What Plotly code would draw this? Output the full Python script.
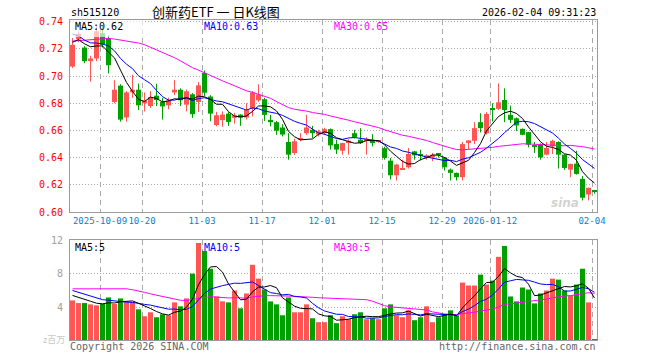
import plotly.graph_objects as go
import pandas as pd

# ---------------- data ----------------
dates = [
    "2025-09-24", "2025-09-25", "2025-09-26", "2025-09-29", "2025-09-30",
    "2025-10-09", "2025-10-10", "2025-10-13", "2025-10-14", "2025-10-15", "2025-10-16", "2025-10-17",
    "2025-10-20", "2025-10-21", "2025-10-22", "2025-10-23", "2025-10-24",
    "2025-10-27", "2025-10-28", "2025-10-29", "2025-10-30", "2025-10-31",
    "2025-11-03", "2025-11-04", "2025-11-05", "2025-11-06", "2025-11-07",
    "2025-11-10", "2025-11-11", "2025-11-12", "2025-11-13", "2025-11-14",
    "2025-11-17", "2025-11-18", "2025-11-19", "2025-11-20", "2025-11-21",
    "2025-11-24", "2025-11-25", "2025-11-26", "2025-11-27", "2025-11-28",
    "2025-12-01", "2025-12-02", "2025-12-03", "2025-12-04", "2025-12-05",
    "2025-12-08", "2025-12-09", "2025-12-10", "2025-12-11", "2025-12-12",
    "2025-12-15", "2025-12-16", "2025-12-17", "2025-12-18", "2025-12-19",
    "2025-12-22", "2025-12-23", "2025-12-24", "2025-12-25", "2025-12-26",
    "2025-12-29", "2025-12-30", "2025-12-31",
    "2026-01-05", "2026-01-06", "2026-01-07", "2026-01-08", "2026-01-09",
    "2026-01-12", "2026-01-13", "2026-01-14", "2026-01-15", "2026-01-16",
    "2026-01-19", "2026-01-20", "2026-01-21", "2026-01-22", "2026-01-23",
    "2026-01-26", "2026-01-27", "2026-01-28", "2026-01-29", "2026-01-30",
    "2026-02-02", "2026-02-03", "2026-02-04",
]

open_ = [
    0.707, 0.727, 0.721, 0.711, 0.713, 0.7315, 0.728, 0.681, 0.693, 0.6696,
    0.688, 0.690, 0.680, 0.678, 0.6856, 0.681, 0.6785, 0.688, 0.690, 0.679,
    0.6866, 0.681, 0.7024, 0.685, 0.664, 0.6676, 0.6724, 0.6693, 0.6717, 0.6695,
    0.676, 0.6822, 0.683, 0.6678, 0.6661, 0.6622, 0.6515, 0.6434, 0.653, 0.658,
    0.6605, 0.657, 0.658, 0.661, 0.650, 0.6451, 0.651, 0.658, 0.6532, 0.6525,
    0.6532, 0.652, 0.647, 0.6378, 0.627, 0.6315, 0.6329, 0.6446, 0.6427, 0.6398,
    0.6402, 0.6424, 0.6402, 0.6312, 0.6288, 0.6256, 0.6515, 0.6524, 0.6661, 0.658,
    0.6755, 0.6759, 0.6824, 0.6715, 0.669, 0.6612, 0.6588, 0.6485, 0.650, 0.6422,
    0.6483, 0.6515, 0.6422, 0.6312, 0.6356, 0.6244, 0.6129, 0.615,
]
high = [
    0.728, 0.733, 0.722, 0.715, 0.737, 0.737, 0.730, 0.697, 0.694, 0.689,
    0.701, 0.6945, 0.688, 0.689, 0.6944, 0.684, 0.6841, 0.697, 0.691, 0.690,
    0.6875, 0.6956, 0.7041, 0.686, 0.6737, 0.674, 0.6735, 0.673, 0.672, 0.680,
    0.689, 0.694, 0.684, 0.6715, 0.667, 0.6646, 0.658, 0.654, 0.658, 0.6715,
    0.6634, 0.6605, 0.662, 0.6615, 0.6532, 0.651, 0.6535, 0.6605, 0.6617, 0.655,
    0.6573, 0.653, 0.648, 0.6398, 0.6355, 0.6385, 0.6471, 0.645, 0.6459, 0.6425,
    0.6435, 0.6435, 0.6405, 0.632, 0.629, 0.6515, 0.6527, 0.6661, 0.6727, 0.6735,
    0.680, 0.6946, 0.691, 0.6783, 0.6695, 0.6615, 0.659, 0.6515, 0.6505, 0.6515,
    0.6532, 0.652, 0.6425, 0.6356, 0.6451, 0.6265, 0.618, 0.616,
]
low = [
    0.706, 0.725, 0.7095, 0.696, 0.711, 0.721, 0.702, 0.680, 0.6665, 0.6665,
    0.684, 0.675, 0.674, 0.6766, 0.678, 0.668, 0.6756, 0.686, 0.678, 0.674,
    0.6693, 0.6737, 0.6853, 0.6668, 0.663, 0.6627, 0.6634, 0.6651, 0.6634, 0.668,
    0.6704, 0.681, 0.667, 0.663, 0.6568, 0.6556, 0.6385, 0.642, 0.652, 0.6568,
    0.6544, 0.6556, 0.6568, 0.6459, 0.6427, 0.6422, 0.6422, 0.654, 0.650, 0.6422,
    0.6483, 0.651, 0.6385, 0.624, 0.6232, 0.631, 0.632, 0.6385, 0.6378, 0.6385,
    0.6375, 0.640, 0.6305, 0.6232, 0.6232, 0.6232, 0.6459, 0.650, 0.6585, 0.657,
    0.6666, 0.675, 0.6661, 0.6654, 0.6595, 0.6565, 0.6476, 0.6434, 0.6385, 0.6418,
    0.6427, 0.632, 0.631, 0.6256, 0.6275, 0.6085, 0.6085, 0.6135,
]
close = [
    0.723, 0.731, 0.711, 0.713, 0.733, 0.723, 0.708, 0.690, 0.668, 0.688,
    0.690, 0.6785, 0.682, 0.6846, 0.6824, 0.6777, 0.682, 0.690, 0.6822, 0.6888,
    0.672, 0.6932, 0.6878, 0.6724, 0.6712, 0.6717, 0.6663, 0.6712, 0.6695, 0.675,
    0.688, 0.6865, 0.6715, 0.6661, 0.6598, 0.657, 0.6422, 0.652, 0.6544, 0.6622,
    0.658, 0.6593, 0.661, 0.649, 0.6459, 0.6507, 0.6524, 0.6551, 0.6507, 0.6539,
    0.6507, 0.6525, 0.6398, 0.627, 0.6349, 0.632, 0.6427, 0.6417, 0.6415, 0.6417,
    0.6422, 0.6420, 0.6329, 0.6288, 0.6256, 0.650, 0.6527, 0.6617, 0.6617, 0.6722,
    0.6751, 0.6807, 0.6751, 0.6678, 0.6637, 0.6568, 0.6495, 0.6483, 0.6402, 0.6471,
    0.6524, 0.6422, 0.6324, 0.6354, 0.628, 0.6105, 0.6178, 0.6149,
]
# volume, millions
volume = [
    4.8, 4.48, 4.48, 4.32, 4.2, 4.4, 5.16, 4.36, 5.04, 4.56,
    4.56, 3.72, 2.88, 3.36, 2.76, 3.12, 3.0, 4.56, 4.08, 5.04,
    8.04, 11.76, 10.8, 8.64, 5.28, 4.68, 4.56, 6.0, 3.84, 5.64,
    9.12, 7.44, 6.12, 4.68, 4.32, 3.0, 5.16, 3.36, 3.36, 4.32,
    2.64, 2.16, 2.16, 3.0, 2.04, 2.88, 2.52, 3.12, 3.36, 2.52,
    2.64, 2.52, 3.84, 4.32, 3.0, 2.76, 3.6, 2.4, 2.76, 4.08,
    2.16, 2.76, 3.12, 3.6, 3.0, 6.96, 6.6, 6.6, 7.92, 6.72,
    7.2, 10.08, 11.4, 5.28, 4.68, 6.36, 6.12, 4.44, 5.64, 6.0,
    7.44, 7.32, 6.0, 5.4, 6.72, 8.64, 4.56, 0.12,
]
# earlier sessions (before the visible window), estimated from the MA lines at the left edge
pre_close = [
    0.722, 0.705, 0.704, 0.724, 0.711, 0.693, 0.705, 0.689, 0.712, 0.711,
    0.700, 0.718, 0.740, 0.737, 0.730, 0.737, 0.760, 0.752, 0.762, 0.751,
    0.745, 0.742, 0.733, 0.735, 0.730, 0.722, 0.726, 0.724, 0.730,
]
pre_volume = [
    4.5, 4.6, 4.3, 4.2, 4.5, 5.0, 4.4, 4.8, 4.5, 8.0,
    7.5, 8.5, 9.0, 7.8, 8.2, 8.6, 7.9, 8.3, 5.8, 5.6,
    6.8, 7.0, 6.2, 6.6, 6.4, 5.8, 5.4, 5.6, 5.4,
]

tick_dates = ["2025-10-09", "2025-10-20", "2025-11-03", "2025-11-17", "2025-12-01",
              "2025-12-15", "2025-12-29", "2026-01-12", "2026-02-04"]
tick_text = ["2025-10-09", "10-20", "11-03", "11-17", "12-01",
             "12-15", "12-29", "2026-01-12", "02-04"]
price_ticks = [0.60, 0.62, 0.64, 0.66, 0.68, 0.70, 0.72, 0.74]
vol_ticks = [4, 8, 12]

# ---------------- styles ----------------
RED = "#ff5555"
GREEN = "#00a000"
GRID = "#a8a8a8"
BORDER = "#9a9a9a"
MONO = "DejaVu Sans Mono"
CJK = "Noto Sans CJK SC"

W, H = 660, 360
ML, MR, MT, MB = 70, 63, 20, 20
PW, PH = W - ML - MR, H - MT - MB


def px(x):
    return (x - ML) / PW


def py(y):
    return (H - MB - y) / PH


n = len(close)
xs = list(range(n))
half = 0.4167
colors = [RED if c >= o else GREEN for o, c in zip(open_, close)]

# moving averages
cs = pd.Series(pre_close + close)
vs = pd.Series(pre_volume + volume)
k0 = len(pre_close)
ma = {w: cs.rolling(w).mean().tolist()[k0:] for w in (5, 10, 30)}
vma = {w: vs.rolling(w).mean().tolist()[k0:] for w in (5, 10, 30)}
ma_col = {5: "#000000", 10: "#0000ff", 30: "#ff00ff"}

fig = go.Figure()

# wicks
for col in (RED, GREEN):
    wx, wy = [], []
    for i in xs:
        if colors[i] == col:
            wx += [i, i, None]
            wy += [low[i], high[i], None]
    fig.add_trace(go.Scatter(x=wx, y=wy, mode="lines", line=dict(color=col, width=1),
                             xaxis="x", yaxis="y", hoverinfo="skip"))

# bodies
fig.add_trace(go.Bar(
    x=xs, base=[min(o, c) for o, c in zip(open_, close)],
    y=[max(abs(c - o), 0.0008) for o, c in zip(open_, close)],
    width=0.833, marker=dict(color=colors, line=dict(width=0)),
    xaxis="x", yaxis="y"))

for w in (30, 10, 5):
    fig.add_trace(go.Scatter(x=xs, y=ma[w], mode="lines",
                             line=dict(color=ma_col[w], width=1), xaxis="x", yaxis="y"))

# volume
fig.add_trace(go.Bar(x=xs, y=volume, width=0.833,
                     marker=dict(color=colors, line=dict(width=0)),
                     xaxis="x2", yaxis="y2"))
for w in (30, 10, 5):
    fig.add_trace(go.Scatter(x=xs, y=vma[w], mode="lines",
                             line=dict(color=ma_col[w], width=1), xaxis="x2", yaxis="y2"))

tickvals = [dates.index(d) - half for d in tick_dates]
xr = [-half, n - 1 + half]

fig.update_layout(
    width=W, height=H, margin=dict(l=ML, r=MR, t=MT, b=MB),
    paper_bgcolor="white", plot_bgcolor="white",
    showlegend=False, barmode="overlay",
    xaxis=dict(domain=[0, 1], range=xr, anchor="y", tickmode="array",
               tickvals=tickvals, ticktext=tick_text, tickangle=0,
               tickfont=dict(family=MONO, size=9, color="#0a7fcf"),
               showgrid=True, gridcolor=GRID, griddash="5px,4px", gridwidth=1,
               showline=True, linecolor=BORDER, mirror=True, zeroline=False, ticks=""),
    yaxis=dict(domain=[py(212), 1.0], range=[0.60, 0.7413], anchor="x",
               tickmode="array", tickvals=price_ticks,
               ticktext=[f"{v:.2f}" for v in price_ticks],
               tickfont=dict(family=MONO, size=10, color="#ff0000"),
               showgrid=True, gridcolor=GRID, griddash="1px,2px",
               showline=True, linecolor=BORDER, mirror=True, zeroline=False,
               ticks="outside", ticklen=4, tickcolor="rgba(0,0,0,0)"),
    xaxis2=dict(domain=[0, 1], range=xr, anchor="y2", tickmode="array",
                tickvals=tickvals, showticklabels=False,
                showgrid=True, gridcolor=GRID, griddash="5px,4px",
                showline=True, linecolor=BORDER, mirror=True, zeroline=False, ticks=""),
    yaxis2=dict(domain=[0, py(240)], range=[0, 12.12], anchor="x2",
                tickmode="array", tickvals=vol_ticks,
                ticktext=[str(v) for v in vol_ticks],
                tickfont=dict(family=MONO, size=10, color="#a0a0a0"),
                showgrid=True, gridcolor=GRID, griddash="1px,2px",
                showline=True, linecolor=BORDER, mirror=True, zeroline=False,
                ticks="outside", ticklen=4, tickcolor="rgba(0,0,0,0)"),
)

# translucent label box at top-left
fig.add_shape(type="rect", xref="paper", yref="paper",
              x0=px(70), x1=px(143), y0=py(37), y1=py(20),
              fillcolor="rgba(255,255,255,0.65)", line=dict(width=0), layer="above")


def text(x, y, s, color="#000", size=10, family=MONO, xanchor="left"):
    fig.add_annotation(x=px(x), y=py(y), xref="paper", yref="paper", text=s,
                       showarrow=False, xanchor=xanchor, yanchor="middle", borderpad=0,
                       font=dict(family=family, size=size, color=color))


text(70, 12, "sh515120")
text(216, 11, "创新药ETF 一 日K线图", size=13, family=CJK, xanchor="center")
text(597, 12, "2026-02-04 09:31:23", xanchor="right")
text(74, 27, f"MA5:{ma[5][-1]:.2f}", color="#000000")
text(203, 27, f"MA10:{ma[10][-1]:.2f}", color="#0000ff")
text(333, 27, f"MA30:{ma[30][-1]:.2f}", color="#ff00ff")
text(74, 247, f"MA5:{int(vma[5][-1])}", color="#000000")
text(203, 247, f"MA10:{int(vma[10][-1])}", color="#0000ff")
text(333, 247, f"MA30:{int(vma[30][-1])}", color="#ff00ff")
text(66, 339, "z百万", color="#c8c8c8", size=9, family=CJK, xanchor="right")
text(69, 346, "Copyright 2026 SINA.COM", color="#666666")
text(597, 346, "http://finance.sina.com.cn", color="#666666", xanchor="right")
fig.add_annotation(x=px(581), y=py(203), xref="paper", yref="paper", text="<b><i>sina</i></b>",
                   showarrow=False, font=dict(family="DejaVu Sans", size=12, color="rgba(180,180,180,0.6)"))

fig.write_html("out.html", config={"displayModeBar": False},
               post_script="document.body.style.margin='0';")
